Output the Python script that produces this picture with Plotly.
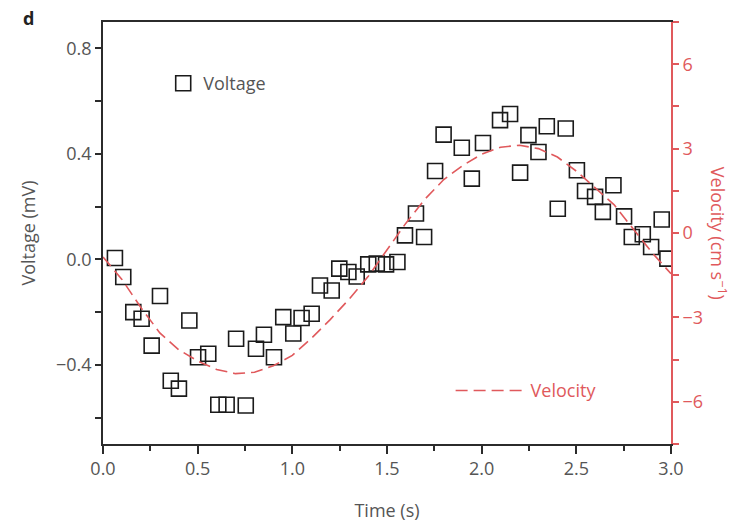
import plotly.graph_objects as go

# ---- data ----
volt_time = [0.063, 0.107, 0.160, 0.204, 0.257, 0.301, 0.358, 0.401, 0.456, 0.502,
             0.556, 0.609, 0.653, 0.703, 0.754, 0.808, 0.850, 0.903, 0.952, 1.005,
             1.049, 1.102, 1.146, 1.208, 1.248, 1.296, 1.340, 1.401, 1.446, 1.495,
             1.555, 1.595, 1.653, 1.696, 1.754, 1.799, 1.895, 1.948, 2.007, 2.097,
             2.150, 2.203, 2.247, 2.300, 2.344, 2.402, 2.444, 2.503, 2.546, 2.599,
             2.640, 2.696, 2.752, 2.793, 2.851, 2.895, 2.951, 2.981]
voltage = [0.005, -0.067, -0.200, -0.225, -0.327, -0.139, -0.460, -0.490, -0.232, -0.371,
           -0.358, -0.551, -0.551, -0.301, -0.554, -0.339, -0.286, -0.371, -0.219, -0.281,
           -0.222, -0.206, -0.099, -0.118, -0.035, -0.048, -0.065, -0.019, -0.016, -0.019,
           -0.010, 0.091, 0.174, 0.085, 0.335, 0.473, 0.423, 0.306, 0.441, 0.528,
           0.551, 0.329, 0.471, 0.407, 0.505, 0.192, 0.496, 0.338, 0.259, 0.237,
           0.180, 0.281, 0.163, 0.085, 0.095, 0.047, 0.151, 0.003]

vel_time = [0.0, 0.1, 0.2, 0.3, 0.4, 0.5, 0.6, 0.7, 0.8, 0.9, 1.0, 1.1, 1.2, 1.3, 1.4, 1.5,
            1.6, 1.7, 1.8, 1.9, 2.0, 2.1, 2.2, 2.3, 2.4, 2.5, 2.6, 2.7, 2.8, 2.9, 3.0]
velocity = [-0.85, -1.65, -2.65, -3.55, -4.15, -4.55, -4.85, -5.0, -4.95, -4.72, -4.35,
            -3.75, -3.08, -2.35, -1.55, -0.6, 0.35, 1.2, 1.9, 2.4, 2.8, 3.05, 3.12, 3.0,
            2.7, 2.2, 1.6, 1.0, 0.15, -0.7, -1.45]

x_ticks = [0.0, 0.5, 1.0, 1.5, 2.0, 2.5, 3.0]
y_ticks = [-0.4, 0.0, 0.4, 0.8]
y2_ticks = [-6, -3, 0, 3, 6]

RED = "#e0595c"
AX = "#2b2b2b"
TXT = "#555555"
FONT = "Open Sans"
FS = 18

fig = go.Figure()
fig.add_trace(go.Scatter(
    x=vel_time, y=velocity, mode="lines", name="Velocity", yaxis="y2",
    line=dict(color=RED, width=1.6, dash="12px,6px"), legend="legend2", showlegend=True))
fig.add_trace(go.Scatter(
    x=volt_time, y=voltage, mode="markers", name="Voltage",
    marker=dict(symbol="square-open", size=15, color="#1a1a1a", line=dict(width=1.6)),
    legend="legend", showlegend=True))

fig.update_layout(
    width=748, height=522,
    showlegend=True,
    margin=dict(l=103, r=77, t=22, b=78),
    paper_bgcolor="white", plot_bgcolor="white",
    font=dict(family=FONT, size=FS, color=TXT),
    xaxis=dict(range=[0, 3.0], tickvals=x_ticks, ticktext=[f"{v:.1f}" for v in x_ticks],
               showline=True, linecolor=AX, linewidth=1.6, mirror=True, automargin=False,
               ticks="outside", ticklen=8, tickcolor=AX, tickwidth=1.6,
               minor=dict(dtick=0.25, tick0=0, ticks="outside", ticklen=5, tickcolor=AX),
               showgrid=False, zeroline=False, tickfont=dict(size=FS, color=TXT),
               title=dict(text="Time (s)", font=dict(size=FS, color=TXT), standoff=25)),
    yaxis=dict(range=[-0.7, 0.9], tickvals=y_ticks, automargin=False,
               ticktext=[("\u2212" if v < 0 else "") + f"{abs(v):.1f}" for v in y_ticks],
               showline=True, linecolor=AX, linewidth=1.6,
               ticks="outside", ticklen=6, tickcolor=AX, tickwidth=1.6,
               minor=dict(dtick=0.2, tick0=0, ticks="outside", ticklen=6, tickcolor=AX),
               showgrid=False, zeroline=False, tickfont=dict(size=FS, color=TXT),
               title=dict(text="Voltage (mV)", font=dict(size=FS, color=TXT), standoff=16)),
    yaxis2=dict(range=[-7.5, 7.5], overlaying="y", side="right", tickvals=y2_ticks,
                automargin=False,
                ticktext=[("\u2212" if v < 0 else "") + str(abs(v)) for v in y2_ticks],
                showline=True, linecolor=RED, linewidth=1.6,
                ticks="outside", ticklen=6, tickcolor=RED, tickwidth=1.6,
                minor=dict(dtick=1.5, tick0=0, ticks="outside", ticklen=6, tickcolor=RED),
                tickfont=dict(color=RED, size=FS),
                showgrid=False, zeroline=False),
    legend=dict(x=0.106, y=0.898, xanchor="left", yanchor="top", bgcolor="rgba(0,0,0,0)",
                font=dict(size=FS, color=TXT)),
    legend2=dict(x=0.612, y=0.17, xanchor="left", yanchor="top", bgcolor="rgba(0,0,0,0)",
                 itemwidth=70, font=dict(size=FS, color=RED)),
    annotations=[
        dict(text="<b>d</b>", xref="paper", yref="paper", x=-0.145, y=1.01,
             xanchor="left", yanchor="middle", showarrow=False,
             font=dict(size=18, color="#222")),
        dict(text="Velocity (cm s<sup>\u22121</sup>)", xref="paper", yref="paper",
             x=1.083, y=0.5, textangle=90, showarrow=False, xanchor="center",
             yanchor="middle", font=dict(size=FS, color=RED)),
    ],
)

fig.write_html("out.html")
